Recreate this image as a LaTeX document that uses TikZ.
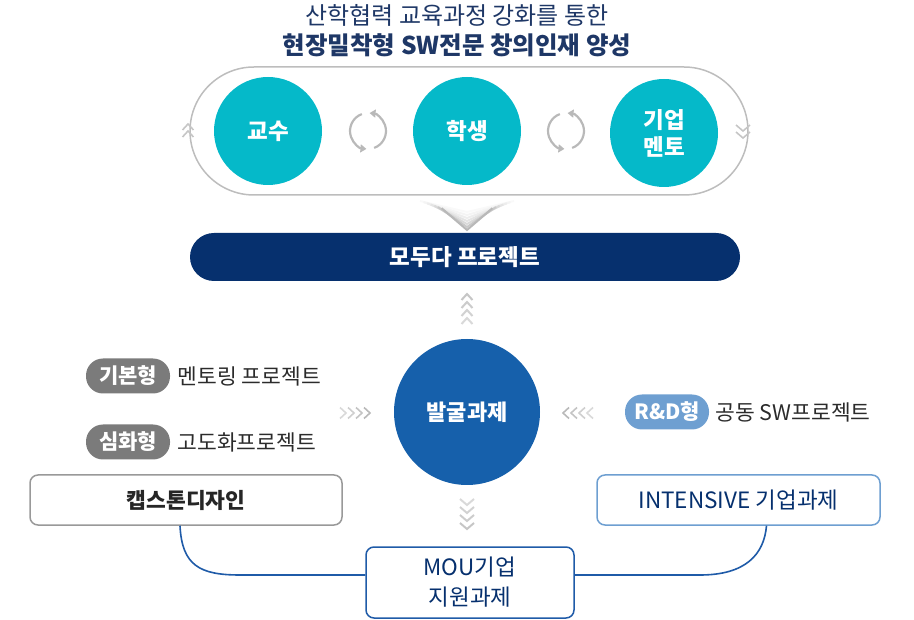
\documentclass[tikz,border=0pt]{standalone}
\usepackage{fontspec}
\setmainfont{Noto Sans CJK KR}
\usetikzlibrary{arrows.meta}
\definecolor{teal}{HTML}{05B9C9}
\definecolor{navy}{HTML}{06306E}
\definecolor{bblue}{HTML}{1660AB}
\definecolor{ttl}{HTML}{1E3766}
\definecolor{pgray}{HTML}{7B7B7B}
\definecolor{rnd}{HTML}{6E9FD1}
\definecolor{lblue}{HTML}{1F5BA8}
\definecolor{capg}{HTML}{BDBDBD}
\definecolor{txt}{HTML}{2B2B2B}
\tikzset{
  bigcirc/.style={circle,fill=teal,minimum size=108pt,inner sep=0pt,text=white,font=\fontsize{22.5}{26}\selectfont\bfseries,align=center},
  pill/.style={rounded corners=17pt,minimum width=84pt,minimum height=35pt,inner sep=0pt,text=white,font=\fontsize{21}{25}\selectfont\bfseries},
  side/.style={anchor=west,text=txt,font=\fontsize{21.5}{25}\selectfont},
  boxn/.style={draw,line width=1.5pt,rounded corners=8pt,fill=white,inner sep=0pt,align=center},
  chv/.style={line width=2pt,draw=gray!45},
  chup/.pic={\draw[chv,#1] (-5.5,3)--(0,-3)--(5.5,3);},
  chup/.default={},
  chdn/.pic={\draw[chv,#1] (-7,-3)--(0,3)--(7,-3);},
  chdn/.default={},
  chrt/.pic={\draw[chv,line width=1.6pt,#1] (-3,-5.5)--(3,0)--(-3,5.5);},
  chrt/.default={},
  chlt/.pic={\draw[chv,line width=1.6pt,#1] (3,-5.5)--(-3,0)--(3,5.5);},
  chlt/.default={},
  refresh/.pic={
    \draw[line width=2.2pt,gray!55,-{Triangle[length=6pt,width=8pt]}] (250:18) arc[start angle=250,end angle=95,radius=18];
    \draw[line width=2.2pt,gray!55,-{Triangle[length=6pt,width=8pt]}] (70:18) arc[start angle=70,end angle=-85,radius=18];
  }
}
\begin{document}
\begin{tikzpicture}[x=1pt,y=-1pt]
\useasboundingbox (0,0) rectangle (914,620);
% title
\node[text=ttl,font=\fontsize{24}{28}\selectfont] (t1) at (457,15) {산학협력 교육과정 강화를 통한};
\node[text=ttl,font=\fontsize{24.5}{28}\selectfont\bfseries] (t2) at (457,45) {현장밀착형 SW전문 창의인재 양성};
% capsule
\draw[capg,line width=1.5pt,rounded corners=64pt] (190,67) rectangle (748,195);
% circles
\node[bigcirc] (prof) at (268,131) {교수};
\node[bigcirc] (stud) at (467,131) {학생};
\node[bigcirc] (ment) at (664,133) {기업\\[1pt]멘토};
\pic at (368,131) {refresh};
\pic at (566,131) {refresh};
\pic at (188,127) {chup={line width=1.6pt}};
\pic at (188,134) {chup={line width=1.6pt}};
\pic at (743,128) {chdn={line width=1.6pt}};
\pic at (743,135) {chdn={line width=1.6pt}};
% funnel
\foreach \i/\c in {0/5,3/9,6/14,9/21,12/30,15/42,18/56}{
  \draw[line width=2pt,gray!\c] (420+\i*1.2,201+\i*0.4) -- (467,212+\i) -- (514-\i*1.2,201+\i*0.4);
}
% bar
\node[fill=navy,rounded corners=24pt,minimum width=550pt,minimum height=48pt,inner sep=0pt,text=white,font=\fontsize{22.5}{26}\selectfont\bfseries] (bar) at (465,257) {모두다 프로젝트};
% up chevrons
\pic at (467,297) {chup={draw=gray!45}};
\pic at (467,305) {chup={draw=gray!40}};
\pic at (467,313) {chup={draw=gray!35}};
\pic at (467,321) {chup={draw=gray!30}};
% central circle
\node[circle,fill=bblue,minimum size=146pt,inner sep=0pt,text=white,font=\fontsize{22}{26}\selectfont\bfseries] (dis) at (467,412) {발굴과제};
% left items
\node[pill,fill=pgray] (basic) at (128,376) {기본형};
\node[side] (basict) at (174,376) {멘토링 프로젝트};
\node[pill,fill=pgray] (deep) at (128,442) {심화형};
\node[side] (deept) at (174,442) {고도화프로젝트};
\foreach \k/\c in {0/30,1/38,2/46,3/55}{\pic at (343+\k*8,413) {chrt={draw=gray!\c}};}
% right items
\foreach \k/\c in {0/55,1/46,2/38,3/30}{\pic at (566+\k*8,413) {chlt={draw=gray!\c}};}
\node[pill,fill=rnd] (rd) at (667,412) {R\&D형};
\node[side] (rdt) at (712,412) {공동 SW프로젝트};
% boxes
\node[boxn,draw=gray!80,minimum width=312pt,minimum height=50pt,font=\fontsize{21.5}{25}\selectfont\bfseries,text=black!85] (cap) at (186,500) {캡스톤디자인};
\node[boxn,draw=rnd,minimum width=283pt,minimum height=50pt,font=\fontsize{22.5}{26}\selectfont,text=navy] (int) at (738.5,500) {INTENSIVE 기업과제};
\pic at (467,502) {chdn={draw=gray!30}};
\pic at (467,510) {chdn={draw=gray!35}};
\pic at (467,518) {chdn={draw=gray!40}};
\pic at (467,526) {chdn={draw=gray!45}};
\node[boxn,draw=lblue,minimum width=208pt,minimum height=71pt,font=\fontsize{22.5}{30}\selectfont,text=navy] (mou) at (470,582.5) {MOU기업\\지원과제};
% connectors
\draw[lblue,line width=1.6pt] ([xshift=-6pt]cap.south) .. controls ([xshift=-4pt,yshift=-40pt]cap.south) and (200,575) .. (240,575) -- (mou.west |- 0,575);
\draw[lblue,line width=1.6pt] (mou.east |- 0,575) -- (700,575) .. controls (745,575) and (764,555) .. ([xshift=28pt]int.south);
\end{tikzpicture}
\end{document}
